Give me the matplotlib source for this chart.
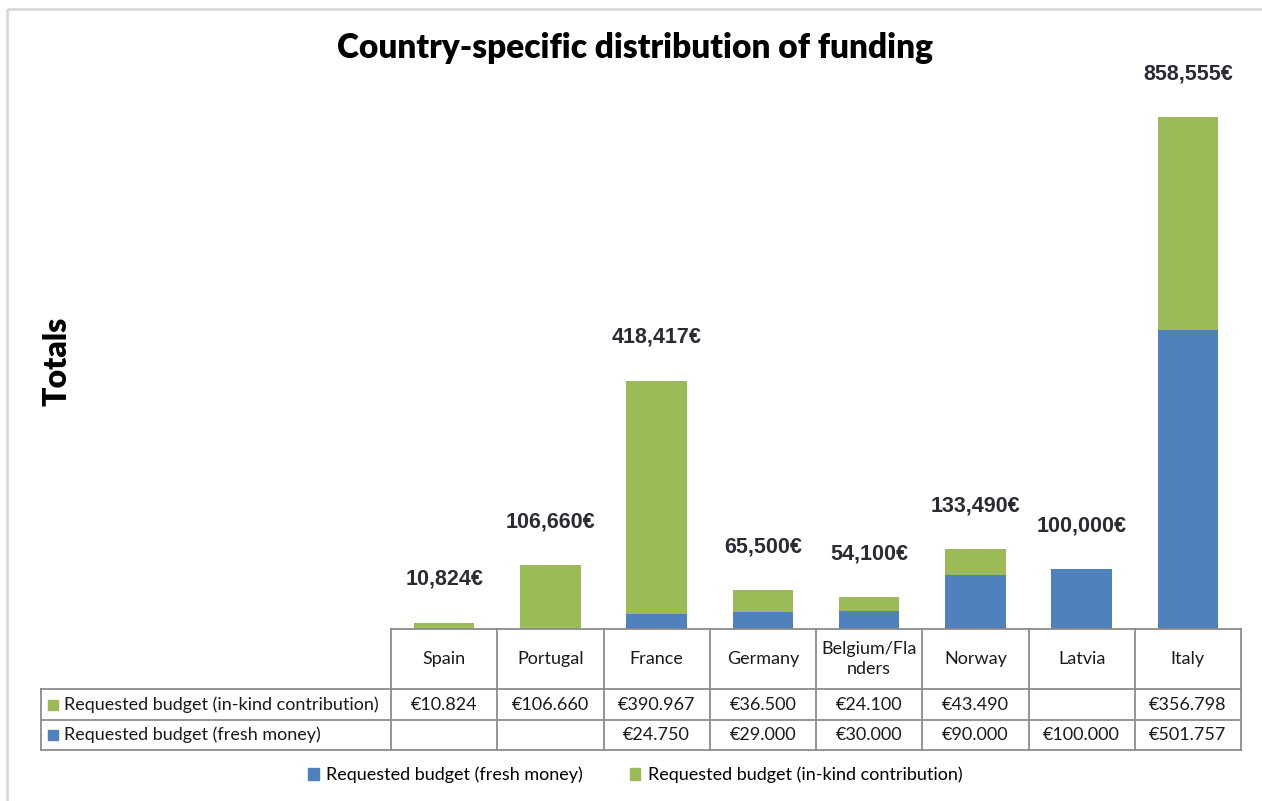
import textwrap
import matplotlib
matplotlib.use('Agg')
import matplotlib.pyplot as plt
from matplotlib.transforms import Affine2D
from matplotlib.patches import Rectangle
from matplotlib.lines import Line2D

countries = ['Spain', 'Portugal', 'France', 'Germany', 'Belgium/Flanders',
             'Norway', 'Latvia', 'Italy']
in_kind = [10824, 106660, 390967, 36500, 24100, 43490, None, 356798]
fresh = [None, None, 24750, 29000, 30000, 90000, 100000, 501757]
totals = [10824, 106660, 418417, 65500, 54100, 133490, 100000, 858555]
series_names = ['Requested budget (in-kind contribution)',
                'Requested budget (fresh money)']

GREEN = '#9BBB59'
BLUE = '#4F81BD'
GRID = '#8c8c8c'
TXT = '#1a1a1a'
W, H = 1262, 801

fig = plt.figure(figsize=(W / 100, H / 100), dpi=100)
# pixel coords, origin top-left
pix = Affine2D().scale(1 / W, -1 / H).translate(0, 1) + fig.transFigure

left, right, top, bottom = 391, 1241, 60, 629
ax = fig.add_axes([left / W, 1 - bottom / H, (right - left) / W, (bottom - top) / H])

x = list(range(len(countries)))
fr = [v or 0 for v in fresh]
ik = [v or 0 for v in in_kind]
ax.bar(x, fr, width=0.57, color=BLUE)
ax.bar(x, ik, width=0.57, bottom=fr, color=GREEN)
ax.set_xlim(-0.5, len(countries) - 0.5)
ax.set_ylim(0, 955000)
ax.axis('off')

for i, t in enumerate(totals):
    ax.annotate(f'{t:,}€', (i, t), xytext=(0, 31), textcoords='offset points',
                ha='center', va='center', fontsize=15.5, fontweight='bold',
                color='#2b2b36', family='Liberation Sans')

# outer chart border (only top and left visible)
fig.add_artist(Rectangle((7, 9), 1300, 900, transform=pix, fill=False,
                         edgecolor='#d9d9d9', linewidth=2))

fig.text(635 / W, 1 - 48 / H, 'Country-specific distribution of funding',
         ha='center', va='center', fontsize=24, fontweight='heavy', family='Lato')
fig.text(57 / W, 1 - 361 / H, 'Totals', rotation=90, ha='center', va='center',
         fontsize=23, fontweight='heavy', family='Lato')

# data table
colw = (right - left) / len(countries)
rows = [629, 689, 720, 750]
tleft = 41

def hline(x0, x1, y):
    fig.add_artist(Line2D([x0, x1], [y, y], transform=pix, color=GRID, lw=1.3))

def vline(x0, y0, y1):
    fig.add_artist(Line2D([x0, x0], [y0, y1], transform=pix, color=GRID, lw=1.3))

hline(left, right, rows[0])
for y in rows[1:]:
    hline(tleft, right, y)
vline(tleft, rows[1], rows[3])
for i in range(len(countries) + 1):
    vline(left + i * colw, rows[0], rows[3])

fs = 13
for i, c in enumerate(countries):
    cx = left + (i + 0.5) * colw
    fig.text(cx, (rows[0] + rows[1]) / 2, '\n'.join(textwrap.wrap(c, 11)),
             transform=pix, ha='center', va='center', fontsize=fs,
             family='Lato', color=TXT, linespacing=1.3)
    for r, vals in enumerate([in_kind, fresh]):
        v = vals[i]
        if v:
            s = '€' + f'{v:,}'.replace(',', '.')
            fig.text(cx, (rows[r + 1] + rows[r + 2]) / 2, s, transform=pix,
                     ha='center', va='center', fontsize=fs, family='Lato', color=TXT)

for r, (name, col) in enumerate(zip(series_names, [GREEN, BLUE])):
    yc = (rows[r + 1] + rows[r + 2]) / 2
    fig.add_artist(Rectangle((48, yc - 5), 10, 10, transform=pix, color=col))
    fig.text(64, yc, name, transform=pix, ha='left', va='center',
             fontsize=fs, family='Lato', color=TXT)

# legend
handles = [Rectangle((0, 0), 1, 1, color=BLUE), Rectangle((0, 0), 1, 1, color=GREEN)]
fig.legend(handles, [series_names[1], series_names[0]], loc='center',
           bbox_to_anchor=(635 / W, 1 - 775 / H), ncol=2, frameon=False,
           handlelength=0.6, handleheight=0.6, handletextpad=0.4, columnspacing=2.6,
           prop={'family': 'Lato', 'size': fs})

fig.savefig('out.png', dpi=100, facecolor='white')
